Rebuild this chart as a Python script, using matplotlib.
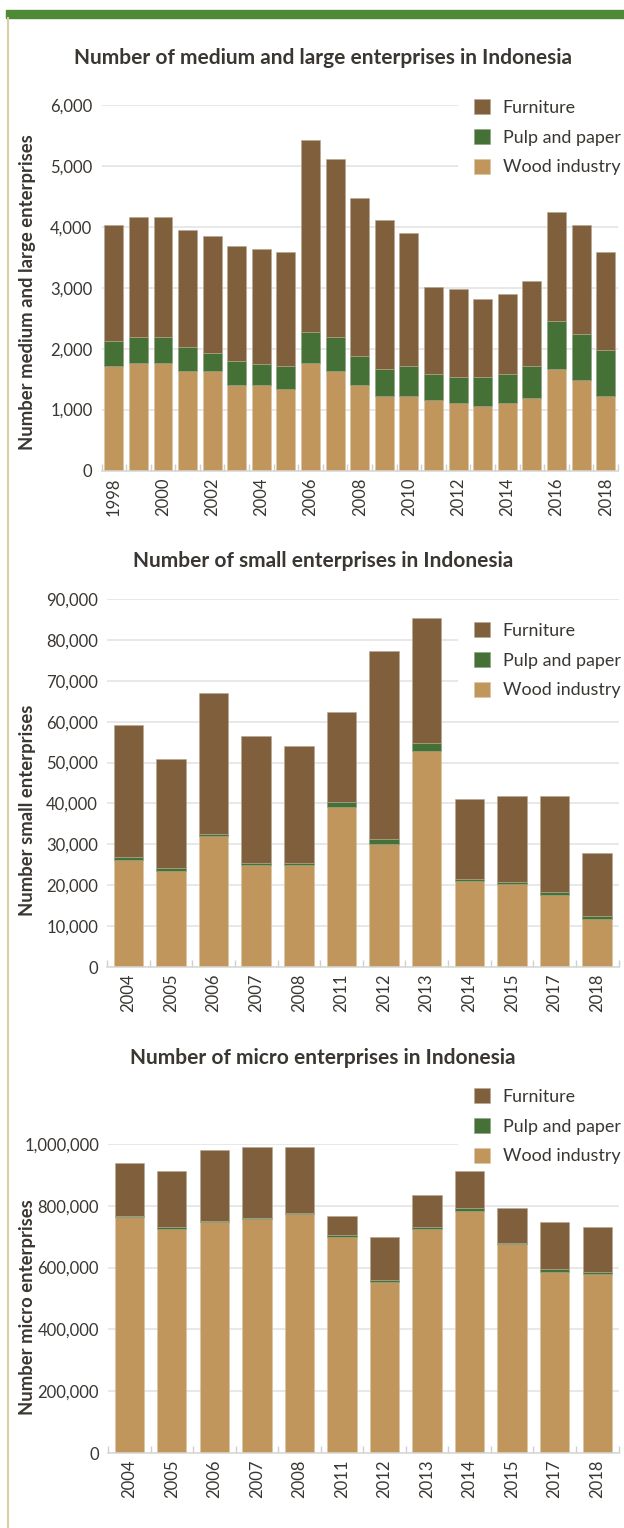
import numpy as np
import matplotlib
matplotlib.use("Agg")
import matplotlib.pyplot as plt
from matplotlib.patches import Rectangle
from matplotlib.ticker import FuncFormatter

plt.rcParams['font.family'] = ['Lato', 'DejaVu Sans']

# medium and large enterprises
years_ml = list(range(1998, 2019))
wood_ml = [1720, 1760, 1760, 1630, 1630, 1410, 1410, 1330, 1760, 1630, 1410,
           1230, 1230, 1150, 1100, 1060, 1100, 1190, 1670, 1490, 1230]
pulp_ml = [400, 430, 430, 390, 300, 390, 340, 390, 520, 560, 475,
           440, 490, 430, 440, 480, 480, 530, 790, 750, 750]
furn_ml = [1910, 1970, 1970, 1920, 1920, 1880, 1880, 1870, 3150, 2930, 2585,
           2450, 2180, 1440, 1440, 1270, 1310, 1390, 1790, 1790, 1610]

# small enterprises
years_s = [2004, 2005, 2006, 2007, 2008, 2011, 2012, 2013, 2014, 2015, 2017, 2018]
wood_s = [26100, 23600, 32100, 25000, 25000, 39200, 30000, 52800, 21000, 20300, 17700, 11800]
pulp_s = [700, 550, 500, 500, 500, 1200, 1300, 1900, 500, 500, 600, 600]
furn_s = [32400, 26600, 34500, 31100, 28600, 22000, 46100, 30600, 19500, 20900, 23400, 15600]

# micro enterprises
years_m = [2004, 2005, 2006, 2007, 2008, 2011, 2012, 2013, 2014, 2015, 2017, 2018]
wood_m = [765000, 725000, 748000, 757000, 774000, 700000, 553000, 725000, 784000, 675000, 587000, 578000]
pulp_m = [2000, 8000, 2000, 2000, 2000, 7000, 7000, 8000, 8000, 6000, 8000, 8000]
furn_m = [170500, 180000, 231000, 230000, 213000, 59000, 138000, 102000, 121000, 111000, 154000, 146000]

labels = ["Furniture", "Pulp and paper", "Wood industry"]
c_furn = "#7f5f3c"
c_pulp = "#457036"
c_wood = "#c1965c"
txt = "#3a3632"

W, H = 624, 1528
fig = plt.figure(figsize=(W / 100, H / 100), dpi=100)

# decoration: green top bar and left khaki line
fig.patches.append(Rectangle((6 / W, 1 - 17.5 / H), 1, 7.5 / H, transform=fig.transFigure,
                             color="#4e8a35", zorder=0))
fig.lines.append(plt.Line2D([7.5 / W, 7.5 / W], [0, 1 - 17.5 / H], transform=fig.transFigure,
                            color="#d8d0a0", lw=1.5))


def px_axes(l, r, t, b):
    return fig.add_axes([l / W, 1 - b / H, (r - l) / W, (b - t) / H])


def draw(ax, years, wood, pulp, furn, ymax, ystep, title, ylabel, title_y, ylab_y,
         leg_xy, label_every=1, width=0.7):
    x = np.arange(len(years))
    wood = np.array(wood)
    pulp = np.array(pulp)
    furn = np.array(furn)
    b1 = ax.bar(x, wood, width, color=c_wood, edgecolor="#d9c3a0", linewidth=0.4, zorder=2)
    b2 = ax.bar(x, pulp, width, bottom=wood, color=c_pulp, edgecolor="#8aa07f", linewidth=0.4, zorder=2)
    b3 = ax.bar(x, furn, width, bottom=wood + pulp, color=c_furn, edgecolor="#b8a88f", linewidth=0.4, zorder=2)
    ax.set_xlim(-0.5, len(years) - 0.5)
    ax.set_ylim(0, ymax)
    ax.set_yticks(np.arange(0, ymax + 1, ystep))
    ax.yaxis.set_major_formatter(FuncFormatter(lambda v, p: f"{int(v):,}"))
    ax.grid(axis="y", color="#e2e2e2", lw=1.1)
    ax.set_axisbelow(True)
    for s in ["left", "right", "top"]:
        ax.spines[s].set_visible(False)
    ax.spines["bottom"].set_color("#d6d6d6")
    ax.spines["bottom"].set_linewidth(1.1)
    ax.set_xticks(x[::label_every])
    ax.set_xticklabels([str(y) for y in years][::label_every], rotation=90)
    ax.set_xticks(np.arange(-0.5, len(years), 1), minor=True)
    ax.tick_params(axis="x", which="major", length=0, pad=5, labelsize=12, labelcolor=txt)
    ax.tick_params(axis="x", which="minor", direction="in", length=5, color="#cfcfcf", width=1)
    ax.tick_params(axis="y", length=0, pad=6.5, labelsize=12, labelcolor=txt)
    fig.text(323 / W, 1 - title_y / H, title, ha="center", va="center",
             fontsize=15, fontweight="bold", color=txt)
    fig.text(28 / W, 1 - ylab_y / H, ylabel, ha="center", va="center", rotation=90,
             fontsize=13.3, fontweight="bold", color=txt)
    leg = ax.legend([b3, b2, b1], labels, loc="upper left",
                    bbox_to_anchor=(leg_xy[0] / W, 1 - leg_xy[1] / H),
                    bbox_transform=fig.transFigure, frameon=True, facecolor="white",
                    edgecolor="none", framealpha=1, fancybox=False, fontsize=12.9,
                    handlelength=0.9, handleheight=0.9, handletextpad=0.7,
                    labelspacing=0.74, borderpad=0.9, borderaxespad=0)
    leg.set_zorder(1)
    for t in leg.get_texts():
        t.set_color(txt)


ax1 = px_axes(101.5, 618, 105, 470.5)
draw(ax1, years_ml, wood_ml, pulp_ml, furn_ml, 6000, 1000,
     "Number of medium and large enterprises in Indonesia",
     "Number medium and large enterprises", 58, 292, (458, 83), label_every=2, width=0.77)

ax2 = px_axes(107, 618.5, 599, 967)
draw(ax2, years_s, wood_s, pulp_s, furn_s, 90000, 10000,
     "Number of small enterprises in Indonesia",
     "Number small enterprises", 561, 810, (458, 606), width=0.69)

ax3 = px_axes(108, 618.5, 1144, 1453)
draw(ax3, years_m, wood_m, pulp_m, furn_m, 1000000, 200000,
     "Number of micro enterprises in Indonesia",
     "Number micro enterprises", 1058, 1307, (458, 1072), width=0.69)

fig.savefig("out.png", dpi=100)
